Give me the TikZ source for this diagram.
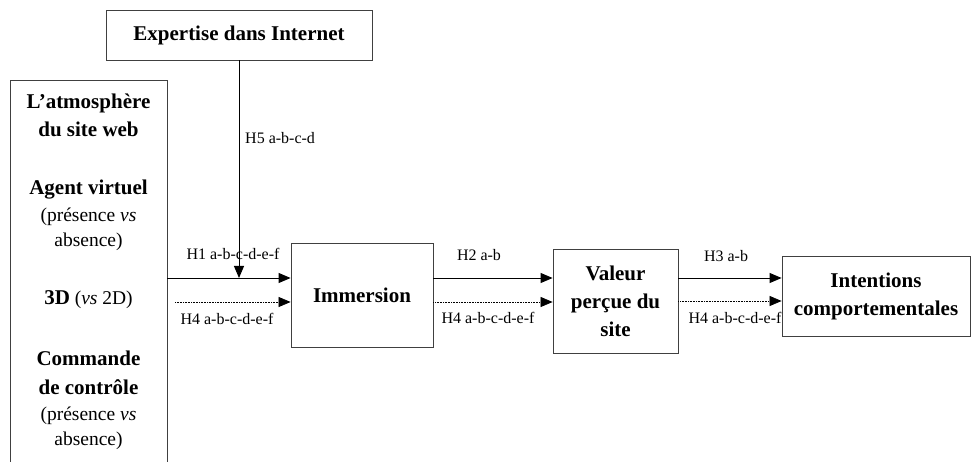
\documentclass[tikz,border=0pt]{standalone}
\usepackage{fontspec}
\setmainfont{Liberation Serif}
\usetikzlibrary{arrows.meta}

\begin{document}
\begin{tikzpicture}[x=1pt,y=-1pt]
\tikzstyle{every node}+=[inner sep=0pt]
\tikzstyle{box}=[draw=black!75, line width=0.8pt, align=center, font=\fontsize{21}{28}\selectfont\bfseries]
\tikzstyle{bold}=[anchor=base, font=\fontsize{21}{28}\selectfont\bfseries]
\tikzstyle{plain}=[anchor=base, font=\fontsize{19.5}{25}\selectfont]
\tikzstyle{lbl}=[font=\fontsize{16}{19}\selectfont]
\tikzstyle{arr}=[black, line width=0.9pt, -{Triangle[length=12pt,width=10pt]}]
\tikzstyle{dots}=[arr, line width=0.7pt, dash pattern=on 0.8pt off 0.8pt]
\useasboundingbox (0,0) rectangle (972,462);
% left box, open at the bottom
\draw [black!75, line width=0.8pt] (10,462) -- (10,80) -- (167,80) -- (167,462);
\node [bold] (atmoa) at (88.5,109) {L’atmosphère};
\node [bold] (atmob) at (88.5,137) {du site web};
\node [bold] (agenta) at (88.5,195) {Agent virtuel};
\node [plain] (agentb) at (88.5,222) {(présence \textit{vs}};
\node [plain] (agentc) at (88.5,247) {absence)};
\node [plain] (trois) at (88.5,305) {\textbf{\fontsize{21}{28}\selectfont 3D} (\textit{vs} 2D)};
\node [bold] (cmda) at (88.5,365) {Commande};
\node [bold] (cmdb) at (88.5,394) {de contrôle};
\node [plain] (cmdc) at (88.5,420) {(présence \textit{vs}};
\node [plain] (cmdd) at (88.5,445) {absence)};
% boxes
\node [box, minimum width=266pt, minimum height=50pt] (expert) at (239,35) {Expertise dans Internet};
\node [box, minimum width=142pt, minimum height=104pt] (imm) at (362,295) {Immersion};
\node [box, minimum width=125pt, minimum height=104pt] (val) at (615.5,301) {Valeur\\perçue du\\site};
\node [box, minimum width=188pt, minimum height=80pt] (int) at (876,296) {Intentions\\comportementales};
% connectors
\coordinate (sa) at (167,278);
\coordinate (da) at (175,302);
\coordinate (mod) at (expert.south |- sa);
\draw [arr] (sa) -- (sa -| imm.west);
\draw [dots] (da) -- (da -| imm.west);
\draw [arr] (expert.south) -- (mod);
\draw [arr] (imm.east |- sa) -- (val.west |- sa);
\draw [dots] (imm.east |- da) -- (val.west |- da);
\draw [arr] (val.east |- sa) -- (int.west |- sa);
\draw [dots] (val.east |- 0,301) -- (int.west |- 0,301);
% labels
\node [lbl, anchor=west] (h5) at (245,138) {H5 a-b-c-d};
\node [lbl] (h1) at (233,254) {H1 a-b-c-d-e-f};
\node [lbl] (h4a) at (227,319) {H4 a-b-c-d-e-f};
\node [lbl] (h2) at (479,255) {H2 a-b};
\node [lbl] (h4b) at (488,318) {H4 a-b-c-d-e-f};
\node [lbl] (h3) at (726,256) {H3 a-b};
\node [lbl] (h4c) at (735,318) {H4 a-b-c-d-e-f};
\end{tikzpicture}
\end{document}
